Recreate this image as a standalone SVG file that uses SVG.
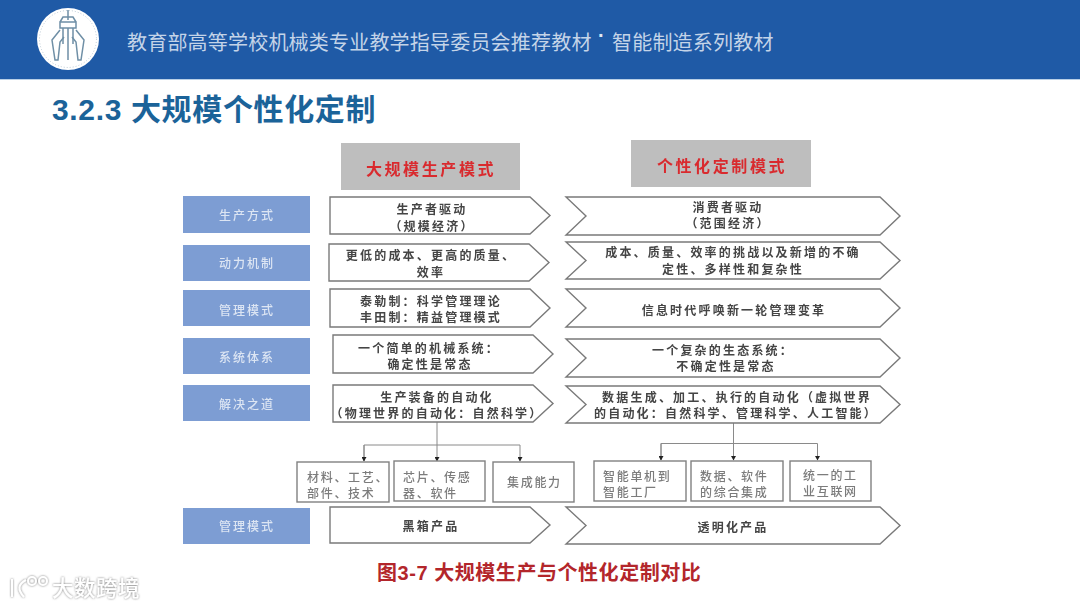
<svg xmlns="http://www.w3.org/2000/svg" width="1080" height="608" viewBox="0 0 1080 608">
<style>
text{font-family:"Noto Sans CJK SC","Noto Sans",sans-serif}
.hd{font-size:20px;letter-spacing:.2px;fill:#c4d4e8}
.dot{font-family:"Liberation Sans",sans-serif;font-size:20px;font-weight:700;fill:#dfe8f3}
.ti{font-family:"Liberation Sans","Noto Sans CJK SC",sans-serif;font-size:30px;font-weight:700;fill:#1b6399;letter-spacing:.65px}
.lab{fill:#7d9dd3}
.lt{font-size:12px;letter-spacing:2px;fill:#dce5f3;text-anchor:middle;font-weight:500}
.hb{fill:#bebebe}
.ht{font-size:16px;letter-spacing:2.6px;fill:#d92b2f;text-anchor:middle;font-weight:700}
.ch{fill:#fff;stroke:#7a7a7a;stroke-width:1.4}
.ct{font-size:12px;letter-spacing:2.2px;fill:#444;text-anchor:middle;font-weight:700}
.bx{fill:#fff;stroke:#808080;stroke-width:1.4}
.st{font-size:12px;letter-spacing:1.700px;fill:#7c7c7c;font-weight:500}
.cn{fill:none;stroke:#8a8a8a;stroke-width:1}
.cap{font-family:"Liberation Sans","Noto Sans CJK SC",sans-serif;font-size:20px;font-weight:700;fill:#b3262b;letter-spacing:.55px}
.wm{font-size:21.500px;font-weight:500;fill:#fff;letter-spacing:.5px}
</style>
<defs>
<filter id="soft" x="-2%" y="-2%" width="104%" height="104%"><feGaussianBlur stdDeviation="0.45"/></filter>
<filter id="halo" x="-10%" y="-20%" width="120%" height="140%"><feDropShadow dx="0" dy="0" stdDeviation="1.100" flood-color="#777" flood-opacity="1"/></filter>
<marker id="ah" markerWidth="5" markerHeight="5" refX="4" refY="2.5" orient="auto"><path d="M0 0L4.5 2.5L0 5Z" fill="#222"/></marker>
</defs>
<rect width="1080" height="608" fill="#fff"/>
<g id="banner">
<rect width="1080" height="79" fill="#1f5aa6"/>
<rect y="79" width="1080" height="1" fill="#b9cfe6"/>
</g>
<g id="logo">
<circle cx="68" cy="39" r="31" fill="#fff"/>
<circle cx="68" cy="39" r="28.5" fill="none" stroke="#9fb4c4" stroke-width=".7" stroke-dasharray="1 2"/>
<g fill="none" stroke="#6f8fa6" stroke-width="1.500">
<path d="M68 10V20M60 22H76V28H60ZM63 28V44M73 28V44M68 28V60M60 22L63 17H73L76 22"/>
<path d="M60 30L52 40L55 60L58 60L60 42L64 37M76 30L84 40L81 60L78 60L76 42L72 37"/>
</g>
</g>
<text class="hd" x="127" y="50">教育部高等学校机械类专业教学指导委员会推荐教材</text>
<text class="dot" x="598" y="42">·</text>
<text class="hd" x="612" y="50">智能制造系列教材</text>
<text class="ti" x="52" y="120">3.2.3 大规模个性化定制</text>

<g filter="url(#soft)">
<g id="connectors">
<path class="cn" d="M437 422V461" marker-end="url(#ah)"/>
<path class="cn" d="M364 461V445H520V461" marker-end="url(#ah)"/>
<path class="cn" d="M364 445V461" marker-end="url(#ah)"/>
<path class="cn" d="M733.500 423V460" marker-end="url(#ah)"/>
<path class="cn" d="M661 460V443.500H817.500V460" marker-end="url(#ah)"/>
<path class="cn" d="M661 443.500V460" marker-end="url(#ah)"/>
</g>
<g id="head-mass"><rect class="hb" x="341" y="143" width="179" height="47"/><text class="ht" x="431" y="175">大规模生产模式</text></g>
<g id="head-custom"><rect class="hb" x="631" y="140" width="180" height="47"/><text class="ht" x="722" y="172">个性化定制模式</text></g>

<g id="label-1"><rect class="lab" x="183" y="196" width="127" height="37"/><text class="lt" x="247" y="220">生产方式</text></g>
<g id="label-2"><rect class="lab" x="183" y="245" width="127" height="36"/><text class="lt" x="247" y="268">动力机制</text></g>
<g id="label-3"><rect class="lab" x="183" y="290" width="127" height="36"/><text class="lt" x="247" y="315">管理模式</text></g>
<g id="label-4"><rect class="lab" x="183" y="338" width="127" height="36"/><text class="lt" x="247" y="362">系统体系</text></g>
<g id="label-5"><rect class="lab" x="183" y="385" width="127" height="36"/><text class="lt" x="247" y="409">解决之道</text></g>
<g id="label-6"><rect class="lab" x="183" y="508" width="127" height="36"/><text class="lt" x="247" y="531">管理模式</text></g>

<g id="mass-1"><path class="ch" d="M330 197H530L550 215.500L530 234H330Z"/><text class="ct" x="432" y="214">生产者驱动</text><text class="ct" x="432" y="231">（规模经济）</text></g>
<g id="mass-2"><path class="ch" d="M329 244H529L549 262.500L529 281H329Z"/><text class="ct" x="431" y="260">更低的成本、更高的质量、</text><text class="ct" x="431" y="277">效率</text></g>
<g id="mass-3"><path class="ch" d="M330 289H530L550 308L530 327H330Z"/><text class="ct" x="431" y="306">泰勒制：科学管理理论</text><text class="ct" x="431" y="322">丰田制：精益管理模式</text></g>
<g id="mass-4"><path class="ch" d="M333 335H533L553 354L533 373H333Z"/><text class="ct" x="429" y="353">一个简单的机械系统：</text><text class="ct" x="430" y="369">确定性是常态</text></g>
<g id="mass-5"><path class="ch" d="M333 385H533L553 403.500L533 422H333Z"/><text class="ct" x="437" y="402">生产装备的自动化</text><text class="ct" x="437" y="418">（物理世界的自动化：自然科学）</text></g>
<g id="mass-6"><path class="ch" d="M330 507H530L550 525L530 543H330Z"/><text class="ct" x="431" y="531">黑箱产品</text></g>

<g id="custom-1"><path class="ch" d="M566 197H880L900 216L880 235H566L586 216Z"/><text class="ct" x="728" y="212">消费者驱动</text><text class="ct" x="728" y="228">（范围经济）</text></g>
<g id="custom-2"><path class="ch" d="M566 242H880L900 260.500L880 279H566L586 260.500Z"/><text class="ct" x="733" y="257">成本、质量、效率的挑战以及新增的不确</text><text class="ct" x="733" y="274">定性、多样性和复杂性</text></g>
<g id="custom-3"><path class="ch" d="M566 289H880L900 308L880 327H566L586 308Z"/><text class="ct" x="734" y="315">信息时代呼唤新一轮管理变革</text></g>
<g id="custom-4"><path class="ch" d="M566 339H880L900 358L880 377H566L586 358Z"/><text class="ct" x="723" y="355">一个复杂的生态系统：</text><text class="ct" x="726" y="371">不确定性是常态</text></g>
<g id="custom-5"><path class="ch" d="M566 386H880L900 404.500L880 423H566L586 404.500Z"/><text class="ct" x="737" y="402">数据生成、加工、执行的自动化（虚拟世界</text><text class="ct" x="736" y="418">的自动化：自然科学、管理科学、人工智能）</text></g>
<g id="custom-6"><path class="ch" d="M566 507H880L900 525.500L880 544H566L586 525.500Z"/><text class="ct" x="733" y="532">透明化产品</text></g>

<g id="box-l1"><rect class="bx" x="297" y="462" width="92" height="40"/><text class="st" x="307" y="482">材料、工艺、</text><text class="st" x="307" y="498">部件、技术</text></g>
<g id="box-l2"><rect class="bx" x="394" y="461" width="91" height="40"/><text class="st" x="403" y="482">芯片、传感</text><text class="st" x="403" y="498">器、软件</text></g>
<g id="box-l3"><rect class="bx" x="493" y="462" width="81" height="40"/><text class="st" x="507" y="487">集成能力</text></g>
<g id="box-r1"><rect class="bx" x="594" y="461" width="92" height="40"/><text class="st" x="603" y="481">智能单机到</text><text class="st" x="603" y="497">智能工厂</text></g>
<g id="box-r2"><rect class="bx" x="691" y="461" width="92" height="40"/><text class="st" x="700" y="481">数据、软件</text><text class="st" x="700" y="497">的综合集成</text></g>
<g id="box-r3"><rect class="bx" x="790" y="461" width="81" height="40"/><text class="st" x="803" y="480">统一的工</text><text class="st" x="803" y="496">业互联网</text></g>
</g>

<text class="cap" x="377" y="580">图3-7 大规模生产与个性化定制对比</text>
<g id="watermark" filter="url(#halo)">
<g fill="none" stroke="#fff" stroke-width="2"><path d="M12 579V597M26 580Q14 586 24 597"/><circle cx="32" cy="581" r="4"/><circle cx="43" cy="581" r="4"/></g>
<text class="wm" x="52" y="596">大数跨境</text>
</g>
</svg>
